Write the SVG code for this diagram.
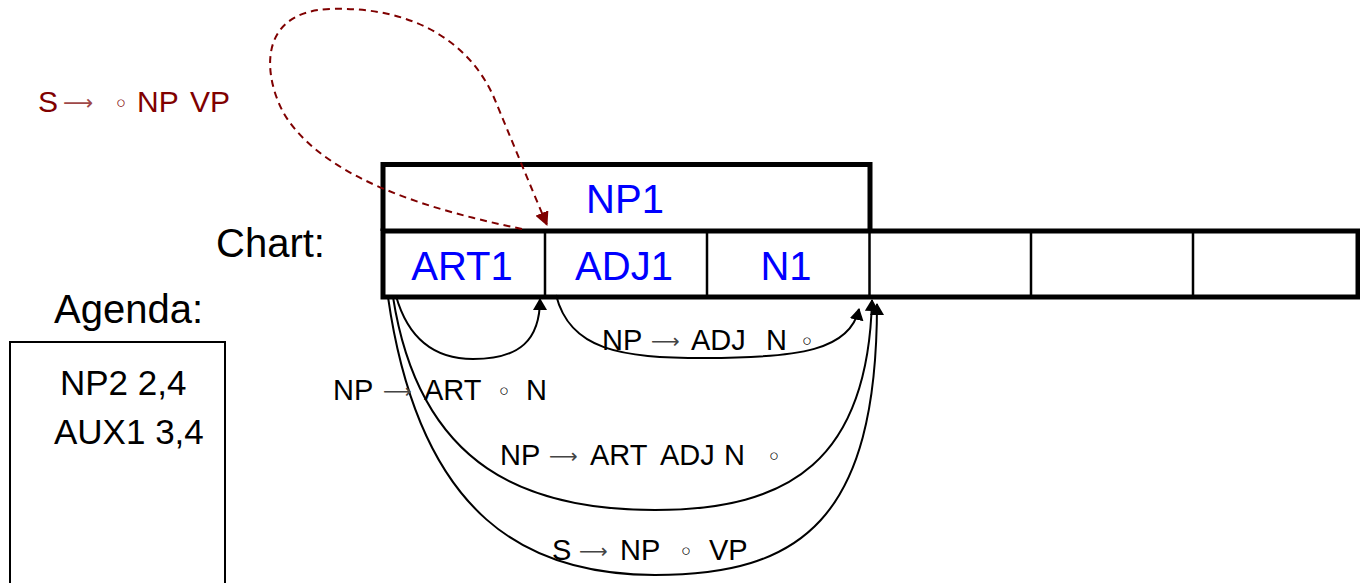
<svg xmlns="http://www.w3.org/2000/svg" width="1360" height="583" viewBox="0 0 1360 583">
<style>
text{font-family:"Liberation Sans",Arial,"DejaVu Sans",sans-serif}
.big{font-size:40px;fill:#000}
.cell{font-size:40px;fill:#0000ff;text-anchor:middle}
.lbl{font-size:29px;fill:#000}
.ag{font-size:35px;fill:#000}
.arr{fill:#444;font-family:"DejaVu Sans",sans-serif;font-size:20px}
.dot{font-family:"DejaVu Sans",sans-serif;font-size:24px}
.thick{fill:none;stroke:#000;stroke-width:5}
.thin{fill:none;stroke:#000;stroke-width:2.5}
.edge{fill:none;stroke:#000;stroke-width:2}
.red{font-size:30px;fill:#800000}
</style>
<defs>
<marker id="ah" markerWidth="12" markerHeight="14" refX="11" refY="7" orient="auto" markerUnits="userSpaceOnUse">
<path d="M0,0 L12,7 L0,14 z" fill="#000"/>
</marker>
<marker id="rh" markerWidth="14" markerHeight="14" refX="13" refY="7" orient="auto" markerUnits="userSpaceOnUse">
<path d="M0,0 L14,7 L0,14 z" fill="#7f0000"/>
</marker>
</defs>
<rect width="1360" height="583" fill="#fff"/>

<g id="title-rule">
<text class="red" y="112"><tspan x="38">S</tspan><tspan x="63" dy="-2" class="arr" style="fill:#a04848;font-size:21px">⟶</tspan><tspan x="114" dy="2" class="dot">◦</tspan><tspan x="137">NP</tspan><tspan x="190">VP</tspan></text>
</g>

<g id="chart-label"><text class="big" x="216" y="257">Chart:</text></g>
<g id="agenda-label"><text class="big" x="54" y="323">Agenda:</text></g>

<g id="agenda">
<path d="M10,590 V342 H225 V590" class="edge"/>
<text class="ag" x="60" y="395">NP2 2,4</text>
<text class="ag" x="54" y="444">AUX1 3,4</text>
</g>

<g id="np1">
<path d="M383,231 V164.5 H870 V231" class="thick"/>
<text class="cell" x="625" y="213">NP1</text>
</g>

<g id="chart">
<rect x="383" y="231" width="975" height="66" class="thick"/>
<path d="M545,231 V297 M707,231 V297 M869.5,231 V297 M1031,231 V297 M1193,231 V297" class="thin"/>
</g>
<g id="art1"><text class="cell" x="462" y="280">ART1</text></g>
<g id="adj1"><text class="cell" x="624" y="280">ADJ1</text></g>
<g id="n1"><text class="cell" x="786" y="280">N1</text></g>

<g id="connectors">
<path d="M522,229 C430,210 330,180 288,120 C266,88 250,12 330,9 C410,6 470,40 495,100 C510,136 530,185 547,225" fill="none" stroke="#7f0000" stroke-width="2" stroke-dasharray="7 5" marker-end="url(#rh)"/>
<path d="M396,296 C410,345 440,359 473,359 C520,359 540,340 540,299" class="edge" marker-end="url(#ah)"/>
<path d="M556,295 C570,350 620,358 705,358 C800,358 850,350 859,309" class="edge" marker-end="url(#ah)"/>
<path d="M393,297 C420,470 530,510 655,510 C790,510 868,460 872,300" class="edge" marker-end="url(#ah)"/>
<path d="M388,297 C420,520 530,575 655,575 C800,575 877,520 877,304" class="edge" marker-end="url(#ah)"/>
</g>

<g id="edge-labels">
<text class="lbl" y="400"><tspan x="333">NP</tspan><tspan x="383" dy="-2" class="arr">⟶</tspan><tspan x="424" dy="2">ART</tspan><tspan x="497" class="dot">◦</tspan><tspan x="526">N</tspan></text>
<text class="lbl" y="350"><tspan x="602">NP</tspan><tspan x="651" dy="-2" class="arr">⟶</tspan><tspan x="691" dy="2">ADJ</tspan><tspan x="766">N</tspan><tspan x="800" class="dot">◦</tspan></text>
<text class="lbl" y="465"><tspan x="500">NP</tspan><tspan x="549" dy="-2" class="arr">⟶</tspan><tspan x="590" dy="2">ART</tspan><tspan x="660">ADJ</tspan><tspan x="724">N</tspan><tspan x="767" class="dot">◦</tspan></text>
<text class="lbl" y="560"><tspan x="552">S</tspan><tspan x="579" dy="-2" class="arr">⟶</tspan><tspan x="620" dy="2">NP</tspan><tspan x="679" class="dot">◦</tspan><tspan x="709">VP</tspan></text>
</g>
</svg>
